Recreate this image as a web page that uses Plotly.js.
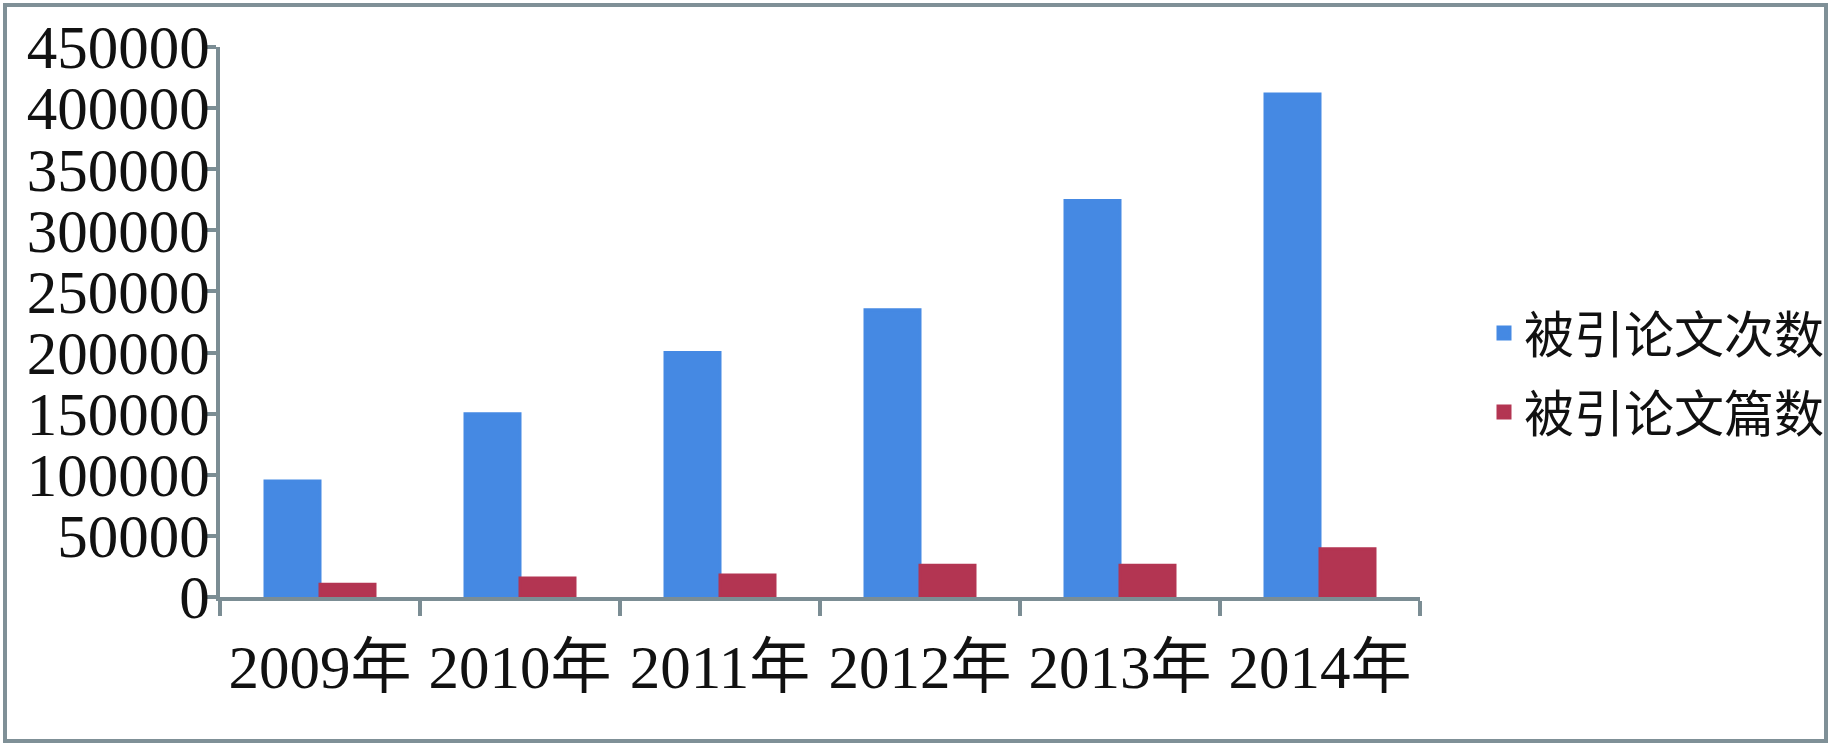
<!DOCTYPE html>
<html>
<head>
<meta charset="utf-8">
<script src="https://cdn.plot.ly/plotly-3.0.1.min.js"></script>
<style>
  html, body { margin: 0; padding: 0; background: #ffffff; }
  #wrap { position: relative; width: 1832px; height: 745px; }
  #chart { width: 1832px; height: 745px; }
  #frame { position: absolute; left: 3px; top: 3px; width: 1817px; height: 732px;
           border: 4px solid #7f9097; pointer-events: none; }
</style>
</head>
<body>
<div id="wrap">
  <div id="chart"></div>
  <div id="frame"></div>
</div>
<script>
const categories = ["2009年", "2010年", "2011年", "2012年", "2013年", "2014年"];
const seriesNames = ["被引论文次数", "被引论文篇数"];
const citationCounts = [95000, 150000, 200000, 235000, 324500, 411500];
const citedPapers = [10400, 15600, 18000, 26000, 26000, 39500];
const yTickValues = [0, 50000, 100000, 150000, 200000, 250000, 300000, 350000, 400000, 450000];

const axisColor = "#7b8d94";
const serif = "'Liberation Serif', 'Times New Roman', 'Noto Sans CJK SC', serif";
const cjk = "'Noto Sans CJK SC', sans-serif";

const traces = [
  { type: "bar", name: seriesNames[0], x: categories, y: citationCounts,
    marker: { color: "#4589e3", line: { color: "#4589e3", width: 3 } },
    legendgroup: "a", hoverinfo: "y" },
  { type: "bar", name: seriesNames[1], x: categories, y: citedPapers,
    marker: { color: "#b33552", line: { color: "#b33552", width: 3 } },
    legendgroup: "b", hoverinfo: "y" }
];

const layout = {
  width: 1832, height: 745,
  margin: { l: 220, r: 412, t: 47, b: 148, pad: 0 },
  paper_bgcolor: "#ffffff", plot_bgcolor: "#ffffff",
  barmode: "group", bargap: 0.45, bargroupgap: 0,
  showlegend: true,
  legend: {
    xref: "container", yref: "container",
    x: 1484 / 1832, y: 0.5, xanchor: "left", yanchor: "middle",
    font: { family: cjk, size: 50, color: "#111111" },
    traceorder: "grouped", tracegroupgap: 11,
    bgcolor: "rgba(0,0,0,0)", borderwidth: 0
  },
  xaxis: {
    type: "category",
    showline: true, linecolor: axisColor, linewidth: 4,
    ticks: "outside", tickson: "boundaries", ticklen: 15, tickwidth: 4, tickcolor: axisColor,
    showgrid: false, zeroline: false,
    tickfont: { family: serif, size: 61, color: "#111111" },
    ticklabelstandoff: 14
  },
  yaxis: {
    range: [0, 450000], tickmode: "array", tickvals: yTickValues,
    ticktext: yTickValues.map(v => String(v)),
    showline: true, linecolor: axisColor, linewidth: 4,
    ticks: "outside", ticklen: 13, tickwidth: 4, tickcolor: axisColor,
    showgrid: false, zeroline: false,
    tickfont: { family: serif, size: 61, color: "#111111" },
    ticklabelstandoff: -19
  }
};

Plotly.newPlot("chart", traces, layout, { displayModeBar: false, staticPlot: true });
</script>
</body>
</html>
